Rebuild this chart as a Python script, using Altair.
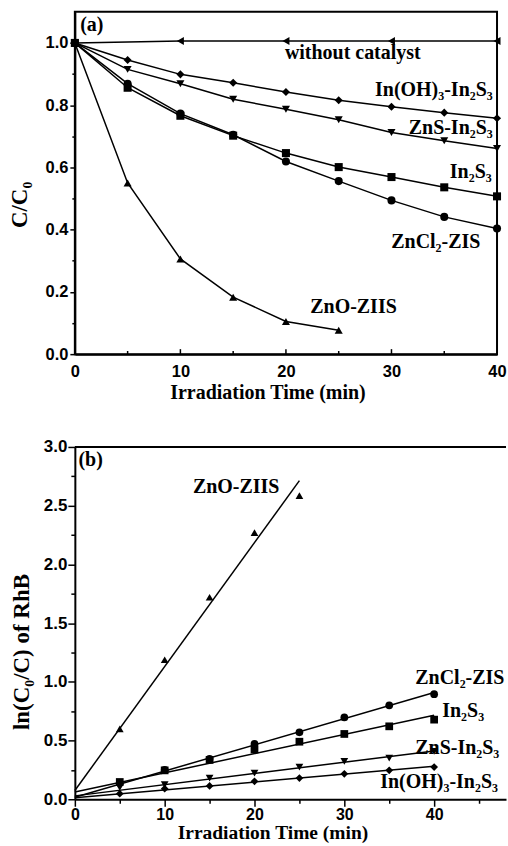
import altair as alt
import pandas as pd

# ---------------- panel (a): C/C0 versus irradiation time ----------------
series = ["without catalyst", "In(OH)3-In2S3", "ZnS-In2S3", "In2S3", "ZnCl2-ZIS", "ZnO-ZIIS"]
marker_shapes = ["triangle-left", "diamond", "triangle-down", "square", "circle", "triangle-up"]

t_full = [0, 5, 10, 15, 20, 25, 30, 35, 40]
t_blank = [0, 10, 20, 30, 40]
t_zno = [0, 5, 10, 15, 20, 25]

a_blank = [1.0, 1.006, 1.006, 1.006, 1.006]
a_inoh = [1.0, 0.945, 0.899, 0.872, 0.842, 0.816, 0.795, 0.776, 0.758]
a_zns = [1.0, 0.915, 0.869, 0.819, 0.787, 0.753, 0.712, 0.686, 0.661]
a_in2s3 = [1.0, 0.856, 0.766, 0.702, 0.646, 0.601, 0.569, 0.536, 0.507]
a_zncl2 = [1.0, 0.869, 0.773, 0.705, 0.619, 0.556, 0.494, 0.441, 0.404]
a_zno = [1.0, 0.55, 0.306, 0.183, 0.105, 0.077]

# ---------------- panel (b): ln(C0/C) versus irradiation time ----------------
b_inoh = [0, 0.047, 0.09, 0.113, 0.153, 0.18, 0.217, 0.246, 0.274]
b_zns = [0, 0.10, 0.124, 0.18, 0.223, 0.274, 0.322, 0.35, 0.407]
b_in2s3 = [0, 0.147, 0.246, 0.335, 0.424, 0.49, 0.556, 0.621, 0.678]
b_zncl2 = [0, 0.14, 0.25, 0.344, 0.471, 0.57, 0.697, 0.80, 0.895]
b_zno = [0, 0.60, 1.188, 1.72, 2.27, 2.585]

# annotations (data coordinates)
ann_a_label = ["without catalyst", "In(OH)₃-In₂S₃", "ZnS-In₂S₃", "In₂S₃", "ZnCl₂-ZIS", "ZnO-ZIIS", "(a)"]
ann_a_t = [19.9, 39.6, 39.6, 39.5, 34.2, 26.4, 0.5]
ann_a_v = [0.968, 0.85, 0.725, 0.585, 0.36, 0.153, 1.057]
ann_a_align = ["left", "right", "right", "right", "center", "center", "left"]

ann_b_label = ["ZnO-ZIIS", "(b)", "ZnCl₂-ZIS", "In₂S₃", "ZnS-In₂S₃", "In(OH)₃-In₂S₃"]
ann_b_t = [17.96, 0.4, 37.9, 40.9, 37.9, 34.0]
ann_b_v = [2.655, 2.89, 1.03, 0.752, 0.44, 0.15]
ann_b_align = ["center", "left", "left", "left", "left", "left"]

minor_a = [5, 15, 25, 35]
major_a = [10, 20, 30]

# ---------------- data frames ----------------
rows_a = []
for name, ts, vs in [
    ("without catalyst", t_blank, a_blank),
    ("In(OH)3-In2S3", t_full, a_inoh),
    ("ZnS-In2S3", t_full, a_zns),
    ("In2S3", t_full, a_in2s3),
    ("ZnCl2-ZIS", t_full, a_zncl2),
    ("ZnO-ZIIS", t_zno, a_zno),
]:
    for t, v in zip(ts, vs):
        rows_a.append({"series": name, "t": t, "v": v})
df_a = pd.DataFrame(rows_a)

rows_b = []
for name, ts, vs in [
    ("In(OH)3-In2S3", t_full, b_inoh),
    ("ZnS-In2S3", t_full, b_zns),
    ("In2S3", t_full, b_in2s3),
    ("ZnCl2-ZIS", t_full, b_zncl2),
    ("ZnO-ZIIS", t_zno, b_zno),
]:
    for t, v in zip(ts, vs):
        rows_b.append({"series": name, "t": t, "v": v})
df_b = pd.DataFrame(rows_b)

ann_a = pd.DataFrame({"label": ann_a_label, "t": ann_a_t, "v": ann_a_v, "align": ann_a_align})
ann_b = pd.DataFrame({"label": ann_b_label, "t": ann_b_t, "v": ann_b_v, "align": ann_b_align})

ticks_a = pd.DataFrame({
    "t": major_a + minor_a,
    "v": [0.0] * (len(major_a) + len(minor_a)),
    "v2": [0.016] * len(major_a) + [0.010] * len(minor_a),
})
frame_b = pd.DataFrame({"t": [0.0], "t2": [48.0], "v": [3.0]})

# ---------------- styling ----------------
SANS = "Liberation Sans"
SERIF = "Liberation Serif"
common_axis = dict(
    labelFont=SANS, labelFontWeight="bold", labelColor="black",
    titleFont=SERIF, titleFontWeight="bold", titleColor="black",
    domainColor="black", domainWidth=2, tickColor="black", tickWidth=1.5,
    grid=False, labelOverlap=False, labelFlush=False,
)

shape_enc = alt.Shape("series:N", scale=alt.Scale(domain=series, range=marker_shapes), legend=None)

# panel (a) encodings
xs_a = alt.Scale(domain=[0, 40], nice=False, zero=False)
ys_a = alt.Scale(domain=[0, 1.1], nice=False, zero=False)
ax_xa = alt.Axis(
    values=[0, 10, 20, 30, 40], ticks=False, labelFontSize=16.5, labelPadding=9,
    title="Irradiation Time (min)", titleFontSize=20, titleX=193, titleY=28,
    **common_axis,
)
ax_ya = alt.Axis(
    values=[round(i * 0.1, 1) for i in range(11)],
    labelExpr="round(datum.value*10) % 2 == 0 ? format(datum.value, '.1f') : ''",
    tickSize={"condition": {"test": "round(datum.value*10) % 2 == 0", "value": 5}, "value": 3},
    labelFontSize=16.5, labelPadding=2,
    title="C/C₀", titleFontSize=23, titleX=-43, titleY=193,
    **common_axis,
)
x_a = alt.X("t:Q", scale=xs_a, axis=ax_xa)
y_a = alt.Y("v:Q", scale=ys_a, axis=ax_ya)

# panel (b) encodings
xs_b = alt.Scale(domain=[0, 48], nice=False, zero=False)
ys_b = alt.Scale(domain=[0, 3.0], nice=False, zero=False)
ax_xb = alt.Axis(
    values=[0, 5, 10, 15, 20, 25, 30, 35, 40, 45],
    labelExpr="datum.value % 10 == 0 ? format(datum.value, 'd') : ''",
    tickSize={"condition": {"test": "datum.value % 10 == 0", "value": 7}, "value": 4},
    labelFontSize=16, labelPadding=0,
    title="Irradiation Time (min)", titleFontSize=19.5, titleX=198, titleY=24,
    **common_axis,
)
ax_yb = alt.Axis(
    values=[i * 0.25 for i in range(13)],
    labelExpr="round(datum.value*4) % 2 == 0 ? format(datum.value, '.1f') : ''",
    tickSize={"condition": {"test": "round(datum.value*4) % 2 == 0", "value": 7}, "value": 4},
    labelFontSize=17, labelPadding=1,
    title="ln(C₀/C) of RhB", titleFontSize=23, titleX=-41, titleY=205,
    **common_axis,
)
x_b = alt.X("t:Q", scale=xs_b, axis=ax_xb)
y_b = alt.Y("v:Q", scale=ys_b, axis=ax_yb)


def text_layers(df, x_enc, y_enc, clip=False):
    out = []
    for al in ["left", "center", "right"]:
        kw = dict(align=al, baseline="middle", font=SERIF, fontWeight="bold", fontSize=20, color="black")
        if clip:
            kw["clip"] = True
        out.append(
            alt.Chart(df).transform_filter(alt.datum.align == al).mark_text(**kw)
            .encode(x=x_enc, y=y_enc, text="label:N")
        )
    return out


# ---------------- panel (a) ----------------
lines_a = alt.Chart(df_a).mark_line(color="black", strokeWidth=1.5).encode(
    x=x_a, y=y_a, detail="series:N"
)
points_a = alt.Chart(df_a).mark_point(filled=True, color="black", opacity=1, size=65).encode(
    x=x_a, y=y_a, shape=shape_enc
)
ticks_layer_a = alt.Chart(ticks_a).mark_rule(color="black", strokeWidth=1.5).encode(
    x=x_a, y=y_a, y2="v2:Q"
)
panel_a = alt.layer(
    lines_a, points_a, ticks_layer_a, *text_layers(ann_a, x_a, y_a)
).properties(
    width=423, height=343,
    view=alt.ViewBackground(stroke="black", strokeWidth=2),
)

# ---------------- panel (b) ----------------
base_b = alt.Chart(df_b)
fit_b = base_b.transform_regression("t", "v", groupby=["series"]).mark_line(
    color="black", strokeWidth=1.5
).encode(x=x_b, y=y_b, detail="series:N")
points_b = base_b.transform_filter(alt.datum.t > 0).mark_point(
    filled=True, color="black", opacity=1, size=60
).encode(x=x_b, y=y_b, shape=shape_enc)
top_b = alt.Chart(frame_b).mark_rule(color="black", strokeWidth=2).encode(
    x=x_b, x2="t2:Q", y=y_b
)
panel_b = alt.layer(
    fit_b, points_b, top_b, *text_layers(ann_b, x_b, y_b, clip=True)
).properties(width=432, height=353)

chart = alt.vconcat(panel_a, panel_b, spacing=34).properties(
    padding={"left": 8, "top": 10, "right": 0, "bottom": 0},
    background="white",
).configure_view(stroke="transparent")

chart.save("out.html", embed_options={"renderer": "svg", "actions": False})
